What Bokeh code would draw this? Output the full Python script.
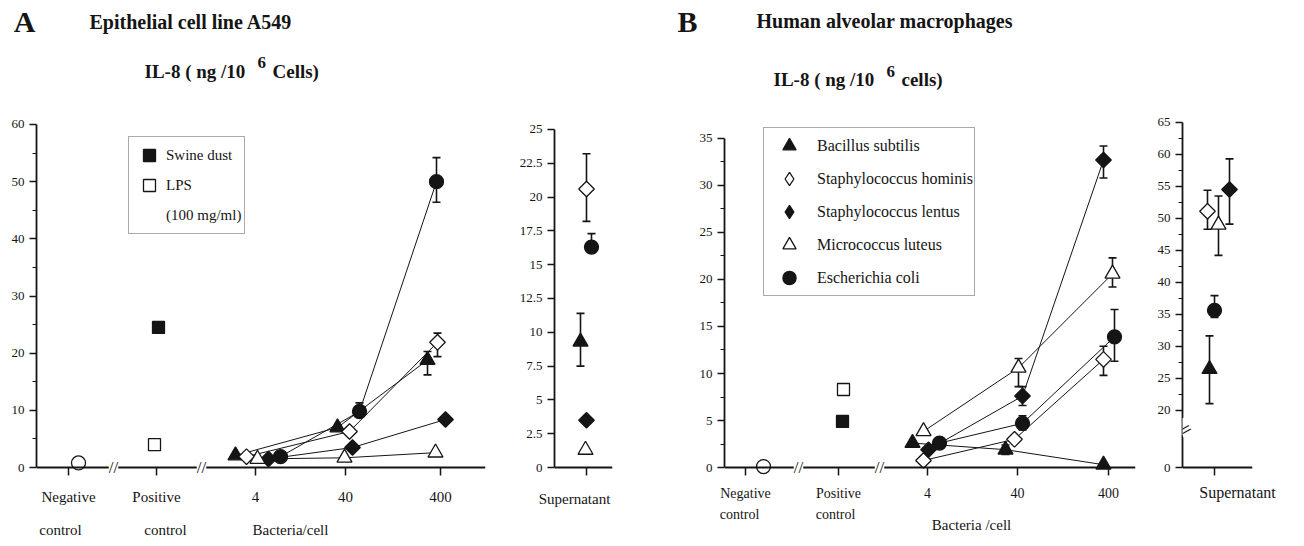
from math import pi
from bokeh.plotting import figure
from bokeh.layouts import row, column
from bokeh.models import (Range1d, FixedTicker, Label, Legend, LegendItem, LinearAxis,
                          Whisker, TeeHead, ColumnDataSource, Span)
from bokeh.embed import file_html
from bokeh.resources import INLINE

SERIF = "Liberation Serif"
INK = "#151515"

# ------------------------------------------------------------------ data
BACTERIA = ["Bacillus subtilis", "Staphylococcus hominis", "Staphylococcus lentus",
            "Micrococcus luteus", "Escherichia coli"]
DOSES = ["4", "40", "400"]
CONTROLS = ["Negative", "Positive"]
POS_CONTROL_NAMES = ["Swine dust", "LPS"]

# Panel A: epithelial cell line A549 (IL-8, ng/10^6 cells)
a_negative = [0.8]
a_swine_dust = [24.5]
a_lps = [4.0]
a_bsub = [2.1, 7.0, 18.8]
a_shom = [1.9, 6.3, 21.9]
a_slen = [1.5, 3.5, 8.4]
a_mlut = [1.5, 1.7, 2.6]
a_ecol = [1.9, 9.8, 50.0]
a_bsub_err = [None, None, (16.2, 20.3)]
a_shom_err = [None, None, (19.4, 23.5)]
a_slen_err = [None, None, None]
a_mlut_err = [None, None, None]
a_ecol_err = [None, (9.0, 11.3), (46.4, 54.2)]
a_sup = [9.3, 20.6, 3.5, 1.3, 16.3]
a_sup_err = [(7.5, 11.4), (18.2, 23.2), None, None, (15.9, 17.3)]

# Panel B: human alveolar macrophages (IL-8, ng/10^6 cells)
b_negative = [0.1]
b_swine_dust = [4.9]
b_lps = [8.3]
b_bsub = [2.6, 1.9, 0.3]
b_shom = [0.75, 3.0, 11.5]
b_slen = [1.9, 7.6, 32.7]
b_mlut = [3.85, 10.6, 20.6]
b_ecol = [2.6, 4.7, 13.9]
b_bsub_err = [None, (1.4, 2.4), None]
b_shom_err = [None, None, (9.8, 12.9)]
b_slen_err = [None, (6.6, 8.6), (30.8, 34.2)]
b_mlut_err = [None, (8.6, 11.6), (19.2, 22.3)]
b_ecol_err = [None, (4.0, 5.5), (11.3, 16.8)]
b_sup = [26.4, 51.1, 54.5, 49.0, 35.6]
b_sup_err = [(21.0, 31.6), (48.3, 54.4), (49.1, 59.3), (44.2, 53.5), (34.5, 37.9)]

A_MAIN = dict(zip(BACTERIA, [a_bsub, a_shom, a_slen, a_mlut, a_ecol]))
A_ERR = dict(zip(BACTERIA, [a_bsub_err, a_shom_err, a_slen_err, a_mlut_err, a_ecol_err]))
B_MAIN = dict(zip(BACTERIA, [b_bsub, b_shom, b_slen, b_mlut, b_ecol]))
B_ERR = dict(zip(BACTERIA, [b_bsub_err, b_shom_err, b_slen_err, b_mlut_err, b_ecol_err]))

# ------------------------------------------------------------------ layout (x in px units from frame left)
A_TICKS = {"Negative": 32, "Positive": 120, "4": 219, "40": 309, "400": 404}
B_TICKS = {"Negative": 21, "Positive": 114, "4": 203, "40": 293, "400": 384}
A_DOSE_OFF = {
    "Bacillus subtilis": [-20, -8, -13], "Staphylococcus hominis": [-9, 4, -3],
    "Staphylococcus lentus": [13, 7, 5], "Micrococcus luteus": [2, -1, -5],
    "Escherichia coli": [25, 14, -4]}
B_DOSE_OFF = {
    "Bacillus subtilis": [-15, -12, -5], "Staphylococcus hominis": [-4, -3, -5],
    "Staphylococcus lentus": [1, 5, -5], "Micrococcus luteus": [-4, 1, 4],
    "Escherichia coli": [12, 5, 6]}
A_SUP_OFF = dict(zip(BACTERIA, [-6, 0, 0, -1, 5]))
B_SUP_OFF = dict(zip(BACTERIA, [-5, -7, 15, 4, 0]))
SUP_TICK = 32

MARK = {
    "Bacillus subtilis": dict(marker="triangle", size=15, angle=0, filled=True, leg="triangle"),
    "Staphylococcus hominis": dict(marker="square", size=11, angle=pi / 4, filled=False, leg="diamond"),
    "Staphylococcus lentus": dict(marker="square", size=11, angle=pi / 4, filled=True, leg="diamond"),
    "Micrococcus luteus": dict(marker="triangle", size=15, angle=0, filled=False, leg="triangle"),
    "Escherichia coli": dict(marker="circle", size=14, angle=0, filled=True, leg="circle"),
}

ROW_H = 440          # plots row height (title strip above it)
TITLE_H = 100
TOP_B = 18
BOT_B = 64
F_TOP = TITLE_H + TOP_B            # page y of frame top
F_BOT = TITLE_H + ROW_H - BOT_B    # page y of frame bottom


def yrange(v0, y0, v1, y1):
    """range so that value v0 sits at page y0 and v1 at page y1"""
    k = (y0 - y1) / (v1 - v0)
    return (v0 - (F_BOT - y0) / k, v1 + (y1 - F_TOP) / k)


def make_fig(width, left, right, xr, yr):
    p = figure(width=width, height=ROW_H, x_range=Range1d(*xr), y_range=Range1d(*yr),
               output_backend="svg", toolbar_location=None,
               min_border_left=left, min_border_right=right,
               min_border_top=TOP_B, min_border_bottom=BOT_B)
    p.xgrid.visible = False
    p.ygrid.visible = False
    p.outline_line_color = None
    p.background_fill_color = "white"
    p.border_fill_color = "white"
    ya = p.yaxis[0]
    ya.axis_line_width = 1.8
    ya.axis_line_color = INK
    ya.major_tick_line_width = 1.5
    ya.major_tick_line_color = INK
    ya.major_tick_in = 0
    ya.major_tick_out = 7
    ya.minor_tick_line_width = 1.2
    ya.minor_tick_line_color = INK
    ya.minor_tick_in = 0
    ya.minor_tick_out = 4
    ya.major_label_text_font = SERIF
    ya.major_label_text_font_size = "13px"
    ya.major_label_text_color = INK
    xa = p.xaxis[0]
    xa.axis_line_color = None
    xa.major_tick_line_width = 1.5
    xa.major_tick_line_color = INK
    xa.major_tick_in = 8
    xa.major_tick_out = 0
    xa.minor_tick_line_color = None
    xa.major_label_text_font = SERIF
    xa.major_label_text_color = INK
    return p


def baseline(p, y0):
    p.add_layout(Span(location=y0, dimension="width", line_color=INK, line_width=1.8))


def label_axis(p, labels, size, standoff):
    ax = LinearAxis(ticker=FixedTicker(ticks=list(labels.keys()), minor_ticks=[]),
                    major_label_overrides=labels, axis_line_color=None,
                    major_tick_line_color=None, minor_tick_line_color=None,
                    major_tick_in=0, major_tick_out=0, major_label_standoff=standoff,
                    major_label_text_font=SERIF, major_label_text_font_size=size,
                    major_label_text_color=INK)
    p.add_layout(ax, "below")


def marker(p, xs, ys, name, **kw):
    st = MARK[name]
    return p.scatter(xs, ys, marker=st["marker"], size=st["size"], angle=st["angle"],
                     fill_color=INK if st["filled"] else "white", line_color=INK,
                     line_width=1.3, **kw)


def whiskers(p, xs, errs):
    base, lo, hi = [], [], []
    for x, e in zip(xs, errs):
        if e:
            base.append(x)
            lo.append(e[0])
            hi.append(e[1])
    if base:
        p.add_layout(Whisker(
            source=ColumnDataSource(dict(base=base, lower=lo, upper=hi)),
            base="base", lower="lower", upper="upper", dimension="height",
            line_color=INK, line_width=1.6,
            upper_head=TeeHead(size=8, line_color=INK, line_width=1.6),
            lower_head=TeeHead(size=8, line_color=INK, line_width=1.6)))


def brk(p, x, y, xu="data", yu="data", t="//", angle=0, size="17px"):
    p.add_layout(Label(x=x, y=y, x_units=xu, y_units=yu, text=t, text_font=SERIF,
                       text_font_size=size, text_color=INK, text_align="center",
                       text_baseline="middle", angle=angle,
                       background_fill_color="white"))


def main_panel(p, ticks, dose_off, values, errs, neg, swine, lps, neg_off, sw_off, lps_off):
    p.xaxis[0].ticker = FixedTicker(ticks=list(ticks.values()), minor_ticks=[])
    p.xaxis[0].major_label_overrides = {v: k for k, v in ticks.items()}
    baseline(p, 0)
    dose_x = [ticks[d] for d in DOSES]
    rends = {}
    for name in BACTERIA:
        xs = [x + o for x, o in zip(dose_x, dose_off[name])]
        p.line(xs, values[name], line_color=INK, line_width=1)
        whiskers(p, xs, errs[name])
    for name in BACTERIA:
        xs = [x + o for x, o in zip(dose_x, dose_off[name])]
        rends[name] = (marker(p, xs, values[name], name), xs)
    p.scatter([ticks["Negative"] + neg_off], neg, marker="circle", size=14,
              fill_color="white", line_color=INK, line_width=1.3)
    r_sw = p.scatter([ticks["Positive"] + sw_off], swine, marker="square", size=12,
                     fill_color=INK, line_color=INK, line_width=1.3)
    r_lps = p.scatter([ticks["Positive"] + lps_off], lps, marker="square", size=12,
                      fill_color="white", line_color=INK, line_width=1.3)
    return rends, r_sw, r_lps


def sup_panel(p, offs, vals, errs):
    p.xaxis[0].ticker = FixedTicker(ticks=[SUP_TICK], minor_ticks=[])
    p.xaxis[0].major_label_overrides = {SUP_TICK: ""}
    p.xaxis[0].major_label_text_font_size = "1px"
    p.xaxis[0].major_label_standoff = 0
    xs = [SUP_TICK + offs[n] for n in BACTERIA]
    whiskers(p, xs, errs)
    for x, v, n in zip(xs, vals, BACTERIA):
        marker(p, [x], [v], n)


# ================================================================== title strip
pt = figure(width=1300, height=TITLE_H, x_range=Range1d(0, 1300), y_range=Range1d(TITLE_H, 0),
            output_backend="svg", toolbar_location=None, min_border=0,
            x_axis_location=None, y_axis_location=None)
pt.xgrid.visible = False
pt.ygrid.visible = False
pt.outline_line_color = None
TITLES = [("A", 24, 21, "30px", "center"),
          ("Epithelial cell line A549", 89, 21, "20px", "left"),
          ("IL-8 ( ng /10", 144, 71, "19px", "left"),
          ("6", 257, 62, "17px", "left"),
          ("Cells)", 272, 71, "19px", "left"),
          ("B", 687, 21, "30px", "center"),
          ("Human alveolar macrophages", 756, 20, "20px", "left"),
          ("IL-8 ( ng /10", 773, 79, "19px", "left"),
          ("6", 886, 71, "17px", "left"),
          ("cells)", 901, 79, "19px", "left")]
for t, x, y, s, al in TITLES:
    pt.add_layout(Label(x=x, y=y, text=t, text_font=SERIF, text_font_size=s,
                        text_font_style="bold", text_color=INK, text_align=al,
                        text_baseline="middle"))

# ================================================================== Panel A main
p1 = make_fig(495, 36, 10, (0, 449), yrange(0, 468, 60, 124))
p1.yaxis.ticker = FixedTicker(ticks=list(range(0, 61, 10)), minor_ticks=list(range(5, 60, 10)))
p1.yaxis.bounds = (0, 60)
p1.xaxis[0].major_label_text_font_size = "15px"
p1.xaxis[0].major_label_standoff = 13
rA, r_sw, r_lps = main_panel(p1, A_TICKS, A_DOSE_OFF, A_MAIN, A_ERR,
                             a_negative, a_swine_dust, a_lps, 10, 2, -2)
label_axis(p1, {24: "control", 129: "control", 254: "Bacteria/cell"}, "15px", 14)
brk(p1, 77, 0)
brk(p1, 165, 0)
r_blank = p1.scatter([A_TICKS["Positive"]], a_lps, marker="square", size=1,
                     fill_alpha=0, line_alpha=0)
legA = Legend(items=[LegendItem(label="Swine dust", renderers=[r_sw]),
                     LegendItem(label="LPS", renderers=[r_lps]),
                     LegendItem(label="(100 mg/ml)", renderers=[r_blank])],
              location=(92, F_BOT - 235), glyph_height=30, glyph_width=34, spacing=0,
              padding=3, label_standoff=0, margin=0,
              border_line_color="#555555", border_line_width=1,
              label_text_font=SERIF, label_text_font_size="15px", label_text_color=INK)
p1.add_layout(legA)

# ================================================================== Panel A supernatant
p2 = make_fig(127, 59, 10, (0, 58), yrange(0, 468, 25, 129))
p2.yaxis.ticker = FixedTicker(ticks=[0, 2.5, 5, 7.5, 10, 12.5, 15, 17.5, 20, 22.5, 25], minor_ticks=[])
p2.yaxis.bounds = (0, 25)
baseline(p2, 0)
sup_panel(p2, A_SUP_OFF, a_sup, a_sup_err)
label_axis(p2, {20: "Supernatant"}, "15px", 15)

# ================================================================== Panel B main
p3 = make_fig(525, 102, 12, (0, 411), yrange(0, 468, 35, 138))
p3.yaxis.ticker = FixedTicker(ticks=list(range(0, 36, 5)),
                              minor_ticks=[2.5 + 5 * i for i in range(7)])
p3.yaxis.bounds = (0, 35)
p3.xaxis[0].major_label_text_font_size = "14px"
p3.xaxis[0].major_label_standoff = 10
rB, _, _ = main_panel(p3, B_TICKS, B_DOSE_OFF, B_MAIN, B_ERR,
                      b_negative, b_swine_dust, b_lps, 18, 4, 5)
label_axis(p3, {15: "control", 111: "control"}, "14px", 3)
label_axis(p3, {247: "Bacteria /cell"}, "15px", -8)
brk(p3, 74, 0)
brk(p3, 155, 0)

# legend swatches: hidden renderers over the same points, drawn with legend-friendly markers
leg_r = []
for name in BACTERIA:
    st = MARK[name]
    leg_r.append(p3.scatter(rB[name][1], B_MAIN[name], marker=st["leg"],
                            fill_color=INK if st["filled"] else "white",
                            line_color=INK, line_width=1.3, visible=False))
legB = Legend(items=[LegendItem(label=n, renderers=[r]) for n, r in zip(BACTERIA, leg_r)],
              location=(39, F_BOT - 297), glyph_height=33, glyph_width=48, spacing=0,
              padding=1, label_standoff=4, margin=0, inactive_fill_alpha=0,
              border_line_color="#555555", border_line_width=1,
              label_text_font=SERIF, label_text_font_size="16px", label_text_color=INK)
p3.add_layout(legB)

# ================================================================== Panel B supernatant (broken axis)
SUP_B_ZERO = 11
sup_b_ticks = [SUP_B_ZERO] + list(range(20, 66, 5))


def sup_b_y(v):
    return v if v >= 20 else SUP_B_ZERO + v * (20 - SUP_B_ZERO) / 20


p4 = make_fig(153, 35, 48, (0, 70), yrange(SUP_B_ZERO, 468, 65, 122))
p4.yaxis.ticker = FixedTicker(ticks=sup_b_ticks, minor_ticks=[22.5 + 5 * i for i in range(9)])
p4.yaxis.major_label_overrides = {SUP_B_ZERO: "0"}
p4.yaxis.bounds = (SUP_B_ZERO, 65)
baseline(p4, SUP_B_ZERO)
sup_panel(p4, B_SUP_OFF, [sup_b_y(v) for v in b_sup],
          [(sup_b_y(e[0]), sup_b_y(e[1])) for e in b_sup_err])
label_axis(p4, {55: "Supernatant"}, "16px", 8)
brk(p4, 3, 17, xu="screen", t="=", angle=0.5, size="20px")

layout = column(pt, row(p1, p2, p3, p4))
open("out.html", "w").write(file_html(layout, INLINE))
